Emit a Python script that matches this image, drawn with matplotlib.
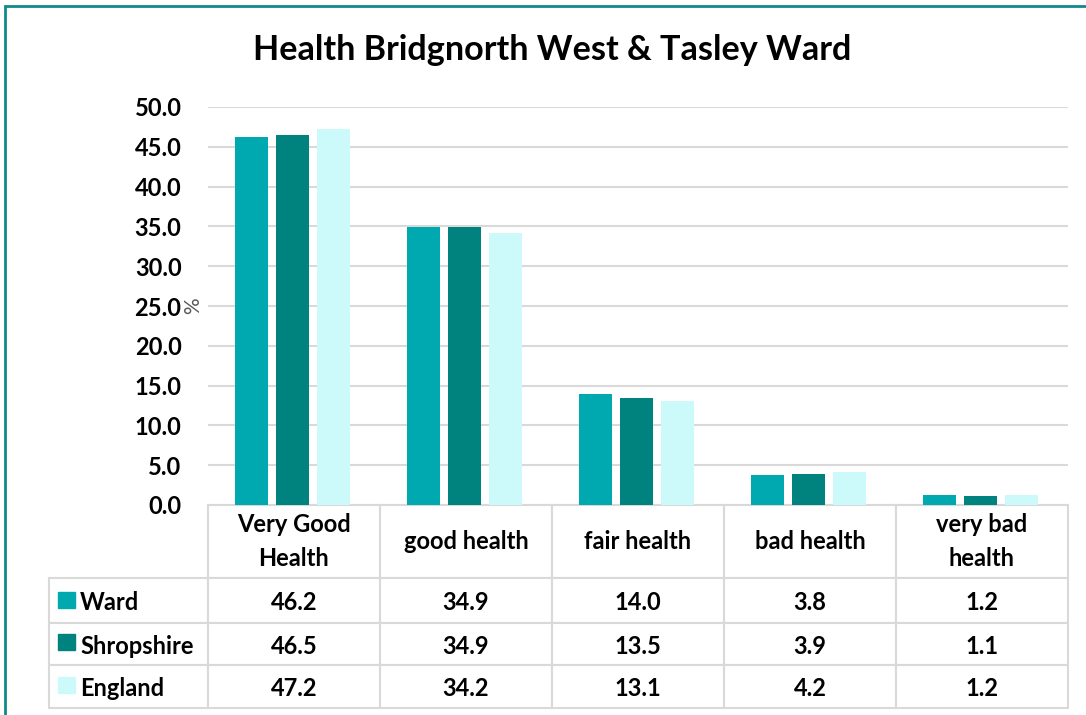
import matplotlib
matplotlib.use('Agg')
import matplotlib.pyplot as plt
from matplotlib.patches import Rectangle
from matplotlib.table import Table
import numpy as np

# Data
categories = ['Very Good\nHealth', 'good health', 'fair health', 'bad health', 'very bad\nhealth']
series_names = ['Ward', 'Shropshire', 'England']
ward = [46.2, 34.9, 14.0, 3.8, 1.2]
shropshire = [46.5, 34.9, 13.5, 3.9, 1.1]
england = [47.2, 34.2, 13.1, 4.2, 1.2]
yticks = [0, 5, 10, 15, 20, 25, 30, 35, 40, 45, 50]

colors = ['#00A9B0', '#00837F', '#CCFAFA']

plt.rcParams['font.family'] = ['Lato', 'DejaVu Sans']

W, H = 1086, 715
fig = plt.figure(figsize=(W / 100, H / 100), dpi=100)

# axes placed in pixel terms
AX_W, AX_H = 860, 398
ax = fig.add_axes([208 / W, 1 - 505 / H, AX_W / W, AX_H / H])

x = np.arange(len(categories))
bw = 0.19
step = 0.238
all_series = [ward, shropshire, england]
for i, (vals, c) in enumerate(zip(all_series, colors)):
    ax.bar(x + (i - 1) * step - 0.008, vals, width=bw, color=c, zorder=3)

ax.set_xlim(-0.5, len(categories) - 0.5)
ax.set_ylim(0, 50)
ax.set_yticks(yticks)
ax.set_yticklabels([f'{v:.1f}' for v in yticks], fontsize=17, fontweight='bold')
ax.tick_params(axis='y', length=0, pad=19)
ax.set_xticks([])
ax.grid(axis='y', color='#D9D9D9', linewidth=1.5, zorder=0)
for s in ax.spines.values():
    s.set_visible(False)

ax.text((193 - 208) / AX_W, 0.5, '%', transform=ax.transAxes, rotation=90,
        ha='center', va='center', fontsize=15, color='#595959')

# title
fig.text(552 / W, 1 - 50 / H, 'Health Bridgnorth West & Tasley Ward',
         ha='center', va='center', fontsize=24.6, fontweight='bold')

# data table under the axes
tbl = Table(ax, loc='bottom')
row_h = [73, 45, 42, 43]
lab_w = 159 / AX_W
col_w = 172 / AX_W
for j, cat in enumerate(categories):
    cell = tbl.add_cell(0, j, width=col_w, height=row_h[0] / AX_H, text=cat, loc='center')
    cell.get_text().set_linespacing(1.55)
for i, (name, vals) in enumerate(zip(series_names, all_series), start=1):
    cell = tbl.add_cell(i, -1, width=lab_w, height=row_h[i] / AX_H, text=name, loc='left')
    cell.PAD = 31 / 159
    for j, v in enumerate(vals):
        tbl.add_cell(i, j, width=col_w, height=row_h[i] / AX_H, text=f'{v:.1f}', loc='center')
tbl.auto_set_font_size(False)
for (r, c), cell in tbl.get_celld().items():
    cell.set_edgecolor('#D9D9D9')
    cell.set_linewidth(1.5)
    cell.get_text().set_fontsize(17)
    cell.get_text().set_fontweight('bold')
    if r > 0:
        cell.get_text().set_va('center_baseline')
ax.add_table(tbl)

# legend keys inside the row labels
key_y = [592, 634, 677]
for yk, c in zip(key_y, colors):
    fig.patches.append(Rectangle((58 / W, 1 - (yk + 16) / H), 17 / W, 16 / H,
                                 transform=fig.transFigure, color=c, zorder=5))

# chart border
fig.patches.append(Rectangle((5 / W, -0.1), 1.1, 1 - 6 / H + 0.1, transform=fig.transFigure,
                             fill=False, edgecolor='#0E8A8C', linewidth=2))

fig.savefig('out.png', dpi=100)
